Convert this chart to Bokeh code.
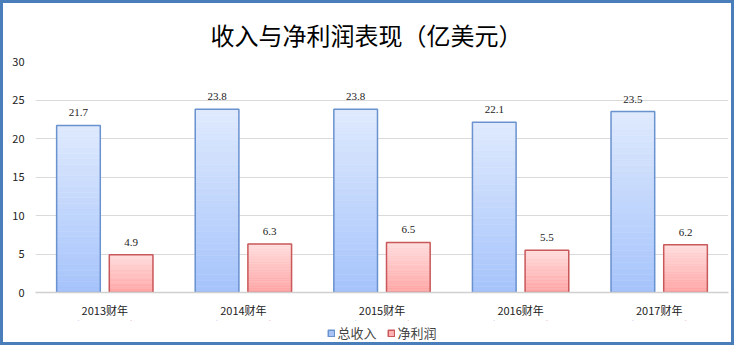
from bokeh.plotting import figure
from bokeh.layouts import column
from bokeh.models import (ColumnDataSource, LabelSet, Legend, LegendItem,
                          FactorRange, SingleIntervalTicker, Range1d)
from bokeh.transform import dodge
from bokeh.embed import file_html
from bokeh.resources import INLINE

# ---- data ----
categories = ["2013财年", "2014财年", "2015财年", "2016财年", "2017财年"]
revenue = [21.7, 23.8, 23.8, 22.1, 23.5]
net_profit = [4.9, 6.3, 6.5, 5.5, 6.2]
series_names = ["总收入", "净利润"]
title_text = "收入与净利润表现（亿美元）"

FONT = "Noto Sans CJK SC"
BLUE_TOP, BLUE_BOT, BLUE_EDGE = (223, 234, 253), (165, 195, 251), "#6a92cf"
RED_TOP, RED_BOT, RED_EDGE = (255, 222, 222), (255, 163, 163), "#c9585a"
N_SLICES = 30
OFFSET = 0.19
BAR_W = 0.315


def lerp(c1, c2, t):
    return "#%02x%02x%02x" % tuple(int(round(a + (b - a) * t)) for a, b in zip(c1, c2))


def gradient_source(values, top_c, bot_c):
    xs, bots, tops, cols = [], [], [], []
    for cat, v in zip(categories, values):
        for i in range(N_SLICES):
            xs.append(cat)
            bots.append(v * i / N_SLICES)
            tops.append(v * (i + 1) / N_SLICES)
            cols.append(lerp(bot_c, top_c, (i + 0.5) / N_SLICES))
    return ColumnDataSource(dict(x=xs, bottom=bots, top=tops, color=cols))


p = figure(x_range=FactorRange(*categories, range_padding=0),
           y_range=Range1d(0, 30),
           width=728, height=317, output_backend="svg", toolbar_location=None,
           title=title_text, min_border_left=32, min_border_right=3,
           min_border_top=58, min_border_bottom=26)

p.title.text_font = FONT
p.title.text_font_size = "24px"
p.title.text_font_style = "normal"
p.title.text_color = "#000000"
p.title.align = "left"
p.title.offset = 175
p.title.standoff = 19

p.outline_line_color = None
p.border_fill_color = "white"

main = ColumnDataSource(dict(x=categories, rev=revenue, net=net_profit,
                             rev_lbl=["%.1f" % v for v in revenue],
                             net_lbl=["%.1f" % v for v in net_profit]))

src_b = gradient_source(revenue, BLUE_TOP, BLUE_BOT)
src_r = gradient_source(net_profit, RED_TOP, RED_BOT)

p.vbar(x=dodge("x", -OFFSET, range=p.x_range), bottom="bottom", top="top",
       width=BAR_W, source=src_b, fill_color="color", line_color="color", line_width=0.5)
p.vbar(x=dodge("x", OFFSET, range=p.x_range), bottom="bottom", top="top",
       width=BAR_W, source=src_r, fill_color="color", line_color="color", line_width=0.5)

p.vbar(x=dodge("x", -OFFSET, range=p.x_range), top="rev", width=BAR_W, source=main,
       fill_alpha=0, line_color=BLUE_EDGE, line_width=1.5)
p.vbar(x=dodge("x", OFFSET, range=p.x_range), top="net", width=BAR_W, source=main,
       fill_alpha=0, line_color=RED_EDGE, line_width=1.5)

for col, lbl, off in (("rev", "rev_lbl", -OFFSET), ("net", "net_lbl", OFFSET)):
    p.add_layout(LabelSet(x=dodge("x", off, range=p.x_range), y=col, text=lbl, source=main,
                          text_align="center", text_baseline="bottom", y_offset=9,
                          text_font=FONT, text_font_size="11px", text_color="#222222"))

p.yaxis.ticker = SingleIntervalTicker(interval=5)
p.yaxis.axis_line_color = None
p.yaxis.major_tick_line_color = None
p.yaxis.minor_tick_line_color = None
p.yaxis.major_label_standoff = 5
p.yaxis.major_label_text_font = FONT
p.yaxis.major_label_text_font_size = "11px"
p.yaxis.major_label_text_color = "#222222"

p.xaxis.axis_line_color = "#d0d0d0"
p.xaxis.axis_line_width = 1.5
p.xaxis.major_tick_line_color = None
p.xaxis.minor_tick_line_color = None
p.xaxis.major_label_standoff = 3
p.xaxis.major_label_text_font = FONT
p.xaxis.major_label_text_font_size = "11px"
p.xaxis.major_label_text_color = "#222222"

p.xgrid.grid_line_color = None
p.ygrid.grid_line_color = "#dadada"
p.ygrid.grid_line_width = 1

# ---- legend strip (zero-width proxies outside its visible y range) ----
q = figure(width=728, height=22, output_backend="svg", toolbar_location=None,
           x_range=p.x_range, y_range=Range1d(-2000, -1999),
           x_axis_type=None, y_axis_type=None, min_border=0)
q.outline_line_color = None
q.border_fill_color = "white"
q.background_fill_color = "white"

lb = q.vbar(x=dodge("x", -OFFSET, range=q.x_range), top="rev", width=0, source=main,
            fill_color="#a9c4f5", line_color=BLUE_EDGE, line_width=1.5)
lr = q.vbar(x=dodge("x", OFFSET, range=q.x_range), top="net", width=0, source=main,
            fill_color="#ffb3b3", line_color=RED_EDGE, line_width=1.5)
legend = Legend(items=[LegendItem(label=series_names[0], renderers=[lb], index=0),
                       LegendItem(label=series_names[1], renderers=[lr], index=0)],
                orientation="horizontal", location="bottom_center",
                label_text_font=FONT, label_text_font_size="13px",
                glyph_width=8, glyph_height=8, label_standoff=3, spacing=10,
                padding=0, margin=0, border_line_color=None,
                background_fill_alpha=0)
q.add_layout(legend, "center")

layout = column(p, q, spacing=0,
                styles={"border": "3px solid #4a7ebb", "background-color": "white"})

html = file_html(layout, INLINE)
open("out.html", "w").write(html)
